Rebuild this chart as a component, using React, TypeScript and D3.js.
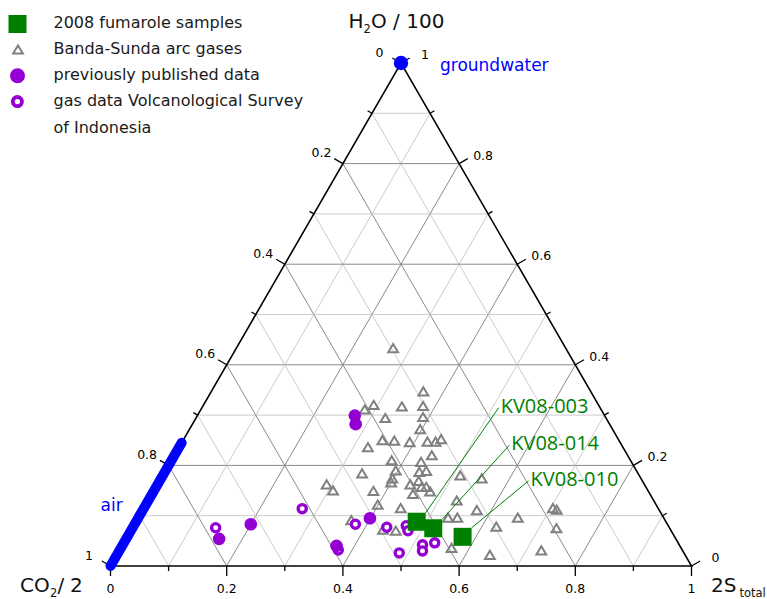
import React from 'react';
import * as d3 from 'd3';

// Ternary components as fractions: S = 2S_total, H = H2O/100, CO2/2 = 1 - S - H
const fumaroleNames = ['KV08-003', 'KV08-014', 'KV08-010'];
const fumaroleS = [0.483, 0.518, 0.577];
const fumaroleH = [0.088, 0.075, 0.058];

const bandaSundaS = [
  0.270, 0.365, 0.282, 0.293, 0.343, 0.379, 0.326, 0.390, 0.397, 0.343,
  0.364, 0.392, 0.422, 0.436, 0.443, 0.325, 0.379, 0.443, 0.431, 0.341,
  0.396, 0.398, 0.400, 0.438, 0.449, 0.446, 0.435, 0.457, 0.465, 0.476,
  0.449, 0.291, 0.308, 0.378, 0.399, 0.442, 0.369, 0.433, 0.456, 0.512,
  0.552, 0.531, 0.575, 0.533, 0.549, 0.625, 0.653, 0.704, 0.712, 0.730,
  0.569, 0.642, 0.726,
];
const bandaSundaH = [
  0.433, 0.347, 0.311, 0.320, 0.317, 0.318, 0.294, 0.296, 0.272, 0.250,
  0.249, 0.246, 0.247, 0.247, 0.252, 0.236, 0.210, 0.220, 0.207, 0.184,
  0.190, 0.174, 0.166, 0.187, 0.189, 0.169, 0.162, 0.157, 0.157, 0.148,
  0.143, 0.162, 0.150, 0.149, 0.122, 0.115, 0.091, 0.072, 0.070, 0.180,
  0.174, 0.130, 0.111, 0.096, 0.096, 0.078, 0.096, 0.115, 0.112, 0.075,
  0.036, 0.022, 0.031,
];

const vsiS = [0.273, 0.143, 0.380, 0.437, 0.469, 0.477, 0.376, 0.484, 0.516, 0.522, 0.535];
const vsiH = [0.114, 0.076, 0.083, 0.077, 0.080, 0.070, 0.032, 0.026, 0.042, 0.030, 0.046];

const publishedS = [0.271, 0.281, 0.399, 0.200, 0.160, 0.369];
const publishedH = [0.299, 0.282, 0.095, 0.083, 0.054, 0.040];

const airS = [0, 0];
const airH = [0, 0.245];
const groundwaterS = [0];
const groundwaterH = [1];

const gridValues = [0.1, 0.2, 0.3, 0.4, 0.5, 0.6, 0.7, 0.8, 0.9];
const tickValues = [0, 0.1, 0.2, 0.3, 0.4, 0.5, 0.6, 0.7, 0.8, 0.9, 1];
const tickLabelMap: Record<string, string> = { '0': '0', '2': '0.2', '4': '0.4', '6': '0.6', '8': '0.8', '10': '1' };

const legendLabels = [
  '2008 fumarole samples',
  'Banda-Sunda arc gases',
  'previously published data',
  'gas data Volcanological Survey',
  'of Indonesia',
];

const GREEN = '#008000';
const PURPLE = '#9400d3';
const GRAY = '#808080';
const BLUE = '#0000ff';
const FONT = '"DejaVu Sans", Verdana, sans-serif';

const x0 = 110.5, x1 = 691.5, yBottom = 566, yTop = 63;
const xScale = d3.scaleLinear().domain([0, 1]).range([x0, x1]);
const yScale = d3.scaleLinear().domain([0, 1]).range([yBottom, yTop]);
const proj = (s: number, h: number): [number, number] => [xScale(s + h / 2), yScale(h)];

const triPath = 'M0,-4.6L4.9,3.6L-4.9,3.6Z';

export default function App() {
  const line = d3.line<[number, number]>();
  const major = (v: number) => Math.round(v * 10) % 2 === 0;

  const grid: JSX.Element[] = [];
  gridValues.forEach((v, i) => {
    const stroke = major(v) ? '#8a8a8a' : '#cccccc';
    const segs: [number, number][][] = [
      [proj(0, v), proj(1 - v, v)],
      [proj(v, 0), proj(v, 1 - v)],
      [proj(1 - v, 0), proj(0, 1 - v)],
    ];
    segs.forEach((sg, j) => {
      grid.push(<path key={`g${i}-${j}`} d={line(sg) || ''} stroke={stroke} strokeWidth={1} fill="none" />);
    });
  });

  const ticks: JSX.Element[] = [];
  const c30 = Math.cos(Math.PI / 6), s30 = 0.5;
  tickValues.forEach((v, i) => {
    const isMajor = major(v);
    const len = isMajor ? 10 : 5;
    const lab = tickLabelMap[String(Math.round(v * 10))];
    // bottom axis: 2S_total
    const [bx, by] = proj(v, 0);
    ticks.push(<line key={`tb${i}`} x1={bx} y1={by} x2={bx} y2={by + len} stroke="#000" strokeWidth={1.3} />);
    if (isMajor) ticks.push(<text key={`lb${i}`} x={bx} y={592.5} textAnchor="middle" fontSize={12.5} fontFamily={FONT}>{lab}</text>);
    // left axis: CO2/2 (value v at point with H = 1 - v)
    const [lx, ly] = proj(0, 1 - v);
    ticks.push(<line key={`tl${i}`} x1={lx} y1={ly} x2={lx - c30 * len} y2={ly - s30 * len} stroke="#000" strokeWidth={1.3} />);
    if (isMajor) ticks.push(<text key={`ll${i}`} x={lx - 21.5} y={ly - 11} dy="0.36em" textAnchor="middle" fontSize={12.5} fontFamily={FONT}>{lab}</text>);
    // right axis: H2O/100
    const [rx, ry] = proj(1 - v, v);
    ticks.push(<line key={`tr${i}`} x1={rx} y1={ry} x2={rx + c30 * len} y2={ry - s30 * len} stroke="#000" strokeWidth={1.3} />);
    if (isMajor) ticks.push(<text key={`lr${i}`} x={rx + 24} y={ry - 8.5} dy="0.36em" textAnchor="middle" fontSize={12.5} fontFamily={FONT}>{lab}</text>);
  });

  const frame = line([proj(0, 0), proj(1, 0), proj(0, 1)]) + 'Z';
  const airPts = airS.map((s, i) => proj(s, airH[i]));

  const labelDx = [84, 78, 68];
  const labelDy = [-109, -78, -51];

  return (
    <svg width={767} height={599} style={{ position: 'absolute', left: 0, top: 0, background: '#fff' }} fontFamily={FONT}>
      {grid}
      <path d={frame} fill="none" stroke="#000" strokeWidth={1.6} />
      {ticks}
      <path d={line(airPts) || ''} stroke={BLUE} strokeWidth={10} strokeLinecap="round" fill="none" />
      {groundwaterS.map((s, i) => {
        const [x, y] = proj(s, groundwaterH[i]);
        return <circle key={`gw${i}`} cx={x} cy={y} r={7.2} fill={BLUE} />;
      })}
      {bandaSundaS.map((s, i) => {
        const [x, y] = proj(s, bandaSundaH[i]);
        return <path key={`bs${i}`} d={triPath} transform={`translate(${x},${y + 0.4})`} fill="none" stroke={GRAY} strokeWidth={2} />;
      })}
      {vsiS.map((s, i) => {
        const [x, y] = proj(s, vsiH[i]);
        return <circle key={`vs${i}`} cx={x} cy={y} r={4.1} fill="#fff" stroke={PURPLE} strokeWidth={3.3} />;
      })}
      {publishedS.map((s, i) => {
        const [x, y] = proj(s, publishedH[i]);
        return <circle key={`pp${i}`} cx={x} cy={y} r={6.3} fill={PURPLE} />;
      })}
      {fumaroleS.map((s, i) => {
        const [x, y] = proj(s, fumaroleH[i]);
        return <rect key={`fs${i}`} x={x - 9} y={y - 9} width={18} height={18} fill={GREEN} />;
      })}
      {fumaroleS.map((s, i) => {
        const [x, y] = proj(s, fumaroleH[i]);
        const tx = x + labelDx[i], ty = y + labelDy[i];
        return (
          <g key={`fl${i}`}>
            <line x1={x + 9} y1={y - 9} x2={tx - 2} y2={ty - 5} stroke={GREEN} strokeWidth={1} />
            <text x={tx} y={ty} fontSize={20} fill={GREEN} fontFamily='"Open Sans", sans-serif'>{fumaroleNames[i]}</text>
          </g>
        );
      })}
      <text x={440} y={70.7} fontSize={17} fill={BLUE}>groundwater</text>
      <text x={100.5} y={511} fontSize={17} fill={BLUE}>air</text>

      {/* axis titles */}
      <text x={348.5} y={27.7} fontSize={20} fill="#111">H</text>
      <text x={363.5} y={33} fontSize={11.5} fill="#111">2</text>
      <text x={371} y={27.7} fontSize={20} fill="#111">O / 100</text>

      <text x={20} y={591.7} fontSize={20} fill="#111">CO</text>
      <text x={50} y={597} fontSize={11.5} fill="#111">2</text>
      <text x={57.5} y={591.7} fontSize={20} fill="#111">/</text>
      <text x={70} y={591.7} fontSize={20} fill="#111">2</text>

      <text x={711} y={591.7} fontSize={20} fill="#111">2S</text>
      <text x={739.5} y={597} fontSize={11.5} fill="#111">total</text>

      {/* legend */}
      <rect x={8.5} y={15} width={18} height={18} fill={GREEN} />
      <path d={triPath} transform="translate(18,50)" fill="none" stroke={GRAY} strokeWidth={2} />
      <circle cx={17.5} cy={75.7} r={7.5} fill={PURPLE} />
      <circle cx={17.4} cy={101.6} r={4.6} fill="#fff" stroke={PURPLE} strokeWidth={3.8} />
      {legendLabels.map((t, i) => (
        <text key={`lg${i}`} x={53.5} y={27.7 + i * 26.2} fontSize={16} fill="#1a1a1a">{t}</text>
      ))}
    </svg>
  );
}
